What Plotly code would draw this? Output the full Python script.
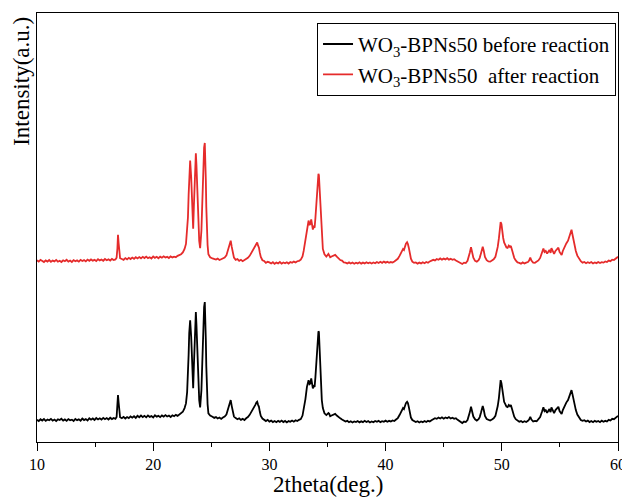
import plotly.graph_objects as go

# ---- data (2theta in degrees, intensity in a.u.) ----
before_pts = [
    (10.0,222),(10.15,210),(10.3,228),(10.45,215),(10.6,230),(10.75,212),(10.9,226),(11.05,218),(11.2,232),(11.35,214),
    (11.5,225),(11.65,210),(11.8,228),(11.95,220),(12.1,233),(12.25,215),(12.4,226),(12.55,212),(12.7,230),(12.85,218),
    (13.0,224),(13.15,210),(13.3,231),(13.45,219),(13.6,227),(13.75,214),(13.9,235),(14.05,220),(14.2,229),(14.35,216),
    (14.5,238),(14.65,224),(14.8,236),(14.95,221),(15.1,240),(15.25,226),(15.4,238),(15.55,225),(15.7,242),(15.85,228),
    (16.0,240),(16.15,226),(16.3,243),(16.45,230),(16.6,241),(16.75,232),(16.85,250),(16.92,340),(16.97,470),(17.02,400),
    (17.08,290),(17.15,248),(17.3,238),(17.45,252),(17.6,236),(17.75,250),(17.9,240),(18.05,256),(18.2,244),(18.35,258),
    (18.5,242),(18.65,262),(18.8,248),(18.95,265),(19.1,250),(19.25,262),(19.4,247),(19.55,266),(19.7,252),(19.85,260),
    (20.0,246),(20.15,268),(20.3,254),(20.45,262),(20.6,249),(20.75,266),(20.9,255),(21.05,270),(21.2,256),(21.35,264),
    (21.5,250),(21.65,268),(21.8,258),(21.95,272),(22.1,262),(22.25,278),(22.4,286),(22.55,303),(22.7,340),(22.82,387),
    (22.92,500),(22.99,653),(23.05,880),(23.1,1090),(23.18,1220),(23.27,1053),(23.36,690),(23.44,540),(23.5,760),(23.55,920),
    (23.61,1220),(23.67,1303),(23.72,1180),(23.76,1020),(23.84,653),(23.9,500),(23.96,420),(24.04,347),(24.1,420),(24.15,520),
    (24.22,780),(24.27,1020),(24.33,1250),(24.38,1353),(24.44,1403),(24.49,1250),(24.53,1020),(24.57,760),(24.61,520),(24.68,380),
    (24.75,287),(24.9,265),(25.1,253),(25.25,242),(25.4,250),(25.55,236),(25.7,245),(25.85,232),(26.0,246),(26.15,255),
    (26.3,275),(26.42,320),(26.55,380),(26.67,420),(26.76,360),(26.85,300),(26.95,255),(27.1,240),(27.25,228),(27.4,238),
    (27.55,222),(27.7,232),(27.85,220),(28.0,238),(28.15,250),(28.3,272),(28.45,300),(28.6,330),(28.7,360),(28.8,375),
    (28.88,395),(28.95,403),(29.02,375),(29.1,353),(29.18,300),(29.26,262),(29.4,235),(29.55,220),(29.7,210),(29.85,222),
    (30.0,205),(30.15,214),(30.3,200),(30.45,210),(30.6,198),(30.75,212),(30.9,202),(31.05,215),(31.2,200),(31.35,211),
    (31.5,197),(31.65,210),(31.8,203),(31.95,215),(32.1,204),(32.25,218),(32.4,210),(32.55,222),(32.7,230),(32.85,265),
    (32.95,320),(33.1,430),(33.23,553),(33.3,600),(33.37,620),(33.45,580),(33.52,587),(33.6,637),(33.67,590),(33.74,537),
    (33.82,560),(33.89,553),(33.96,650),(34.06,853),(34.12,1000),(34.17,1087),(34.22,1110),(34.26,1103),(34.32,950),(34.37,787),
    (34.44,580),(34.51,420),(34.6,340),(34.74,287),(34.9,270),(35.08,290),(35.15,282),(35.23,258),(35.35,265),(35.5,272),
    (35.66,282),(35.8,265),(35.95,248),(36.1,237),(36.25,225),(36.4,214),(36.55,205),(36.7,212),(36.85,198),(37.0,208),
    (37.15,196),(37.3,206),(37.45,200),(37.6,210),(37.75,197),(37.9,207),(38.05,199),(38.2,212),(38.35,201),(38.5,209),
    (38.65,196),(38.8,206),(38.95,198),(39.1,210),(39.25,202),(39.4,212),(39.55,199),(39.7,209),(39.85,202),(40.0,214),
    (40.15,203),(40.3,212),(40.45,205),(40.6,216),(40.75,210),(40.9,225),(41.05,240),(41.2,270),(41.35,310),(41.5,340),
    (41.58,330),(41.65,360),(41.75,390),(41.85,403),(41.92,390),(42.0,350),(42.08,287),(42.18,245),(42.3,220),(42.45,210),
    (42.6,200),(42.75,208),(42.9,196),(43.05,206),(43.2,199),(43.35,210),(43.5,200),(43.65,212),(43.8,205),(43.95,218),
    (44.1,226),(44.25,238),(44.4,232),(44.55,246),(44.7,236),(44.85,248),(45.0,234),(45.15,246),(45.3,238),(45.45,250),
    (45.6,236),(45.75,244),(45.9,232),(46.05,238),(46.2,222),(46.35,212),(46.5,200),(46.6,190),(46.75,205),(46.9,200),
    (47.05,220),(47.15,250),(47.25,300),(47.35,353),(47.45,300),(47.55,255),(47.7,228),(47.85,215),(48.0,228),(48.1,250),
    (48.2,290),(48.3,340),(48.36,360),(48.45,320),(48.55,262),(48.7,230),(48.85,222),(49.0,215),(49.15,225),(49.3,238),
    (49.45,262),(49.55,300),(49.65,360),(49.75,440),(49.83,540),(49.9,620),(49.97,590),(50.05,500),(50.12,450),(50.2,403),
    (50.3,380),(50.4,355),(50.5,350),(50.6,372),(50.7,360),(50.78,370),(50.88,330),(50.97,285),(51.07,253),(51.2,228),
    (51.35,212),(51.5,203),(51.65,210),(51.8,198),(51.95,208),(52.1,200),(52.25,212),(52.35,225),(52.45,253),(52.55,225),
    (52.7,205),(52.85,212),(53.0,208),(53.15,225),(53.3,250),(53.45,300),(53.58,347),(53.68,310),(53.78,320),(53.9,293),
    (54.0,315),(54.1,330),(54.2,300),(54.27,347),(54.38,320),(54.5,290),(54.62,320),(54.75,335),(54.87,353),(54.97,310),
    (55.07,290),(55.15,280),(55.25,320),(55.35,350),(55.45,375),(55.55,395),(55.7,420),(55.8,455),(55.9,490),(56.0,520),
    (56.08,480),(56.18,420),(56.28,360),(56.37,320),(56.5,275),(56.65,240),(56.8,220),(56.95,212),(57.1,218),(57.25,205),
    (57.4,214),(57.55,200),(57.7,210),(57.85,198),(58.0,212),(58.15,202),(58.3,210),(58.45,199),(58.6,214),(58.75,203),
    (58.9,212),(59.05,205),(59.2,222),(59.35,215),(59.5,232),(59.65,228),(59.8,246),(59.9,253),(60.0,262),
]

after_pts = [
    (10.0,232),(10.15,218),(10.3,236),(10.45,222),(10.6,214),(10.75,230),(10.9,219),(11.05,234),(11.2,216),(11.35,228),
    (11.5,220),(11.65,235),(11.8,217),(11.95,226),(12.1,214),(12.25,231),(12.4,222),(12.55,236),(12.7,219),(12.85,229),
    (13.0,215),(13.15,233),(13.3,221),(13.45,230),(13.6,218),(13.75,236),(13.9,224),(14.05,233),(14.2,220),(14.35,238),
    (14.5,226),(14.65,240),(14.8,228),(14.95,236),(15.1,224),(15.25,242),(15.4,230),(15.55,239),(15.7,227),(15.85,244),
    (16.0,232),(16.15,241),(16.3,229),(16.45,245),(16.6,234),(16.75,240),(16.85,258),(16.92,350),(16.97,487),(17.02,410),
    (17.08,295),(17.15,252),(17.3,244),(17.45,236),(17.6,253),(17.75,241),(17.9,256),(18.05,244),(18.2,259),(18.35,246),
    (18.5,262),(18.65,250),(18.8,264),(18.95,251),(19.1,266),(19.25,254),(19.4,268),(19.55,253),(19.7,262),(19.85,250),
    (20.0,270),(20.15,256),(20.3,266),(20.45,252),(20.6,268),(20.75,257),(20.9,271),(21.05,259),(21.2,266),(21.35,254),
    (21.5,270),(21.65,260),(21.8,268),(21.95,262),(22.1,276),(22.25,282),(22.4,292),(22.55,310),(22.7,345),(22.82,395),
    (22.92,510),(22.99,660),(23.05,890),(23.1,1100),(23.18,1230),(23.27,1060),(23.36,700),(23.44,548),(23.5,770),(23.55,930),
    (23.61,1225),(23.67,1303),(23.72,1190),(23.76,1030),(23.84,660),(23.9,505),(23.96,425),(24.04,352),(24.1,425),(24.15,530),
    (24.22,790),(24.27,1030),(24.33,1260),(24.38,1360),(24.44,1407),(24.49,1255),(24.53,1030),(24.57,765),(24.61,525),(24.68,385),
    (24.75,292),(24.9,262),(25.1,250),(25.25,246),(25.4,238),(25.55,248),(25.7,234),(25.85,242),(26.0,250),(26.15,258),
    (26.3,280),(26.42,325),(26.55,385),(26.67,428),(26.76,365),(26.85,305),(26.95,258),(27.1,236),(27.25,244),(27.4,226),
    (27.55,236),(27.7,222),(27.85,234),(28.0,242),(28.15,256),(28.3,276),(28.45,305),(28.6,335),(28.7,362),(28.8,382),
    (28.88,400),(28.95,410),(29.02,380),(29.1,358),(29.18,305),(29.26,265),(29.4,232),(29.55,224),(29.7,206),(29.85,216),
    (30.0,210),(30.15,200),(30.3,212),(30.45,196),(30.6,208),(30.75,200),(30.9,214),(31.05,198),(31.2,210),(31.35,202),
    (31.5,212),(31.65,199),(31.8,214),(31.95,206),(32.1,218),(32.25,210),(32.4,222),(32.55,226),(32.7,238),(32.85,270),
    (32.95,325),(33.1,440),(33.23,560),(33.3,610),(33.37,630),(33.45,585),(33.52,595),(33.6,640),(33.67,596),(33.74,540),
    (33.82,566),(33.89,558),(33.96,655),(34.06,860),(34.12,1005),(34.17,1090),(34.22,1097),(34.26,1085),(34.32,945),(34.37,790),
    (34.44,585),(34.51,425),(34.6,345),(34.74,292),(34.9,268),(35.08,295),(35.15,280),(35.23,262),(35.35,270),(35.5,276),
    (35.66,286),(35.8,268),(35.95,250),(36.1,234),(36.25,228),(36.4,210),(36.55,208),(36.7,200),(36.85,210),(37.0,199),
    (37.15,209),(37.3,197),(37.45,207),(37.6,200),(37.75,211),(37.9,198),(38.05,208),(38.2,200),(38.35,212),(38.5,202),
    (38.65,210),(38.8,199),(38.95,209),(39.1,201),(39.25,214),(39.4,204),(39.55,216),(39.7,206),(39.85,218),(40.0,208),
    (40.15,216),(40.3,206),(40.45,214),(40.6,209),(40.75,220),(40.9,230),(41.05,246),(41.2,275),(41.35,316),(41.5,345),
    (41.58,335),(41.65,365),(41.75,398),(41.85,413),(41.92,395),(42.0,355),(42.08,292),(42.18,248),(42.3,218),(42.45,206),
    (42.6,210),(42.75,198),(42.9,208),(43.05,200),(43.2,212),(43.35,202),(43.5,214),(43.65,206),(43.8,220),(43.95,226),
    (44.1,236),(44.25,230),(44.4,244),(44.55,236),(44.7,250),(44.85,238),(45.0,248),(45.15,240),(45.3,252),(45.45,238),
    (45.6,246),(45.75,236),(45.9,242),(46.05,230),(46.2,218),(46.35,206),(46.5,198),(46.6,195),(46.75,208),(46.9,204),
    (47.05,226),(47.15,258),(47.25,310),(47.35,363),(47.45,305),(47.55,258),(47.7,226),(47.85,218),(48.0,232),(48.1,256),
    (48.2,298),(48.3,350),(48.36,367),(48.45,325),(48.55,265),(48.7,232),(48.85,220),(49.0,218),(49.15,228),(49.3,242),
    (49.45,266),(49.55,305),(49.65,365),(49.75,450),(49.83,550),(49.9,613),(49.97,595),(50.05,505),(50.12,455),(50.2,410),
    (50.3,385),(50.4,360),(50.5,355),(50.6,378),(50.7,365),(50.78,375),(50.88,335),(50.97,288),(51.07,256),(51.2,230),
    (51.35,210),(51.5,206),(51.65,198),(51.8,210),(51.95,200),(52.1,208),(52.25,214),(52.35,228),(52.45,258),(52.55,228),
    (52.7,208),(52.85,206),(53.0,214),(53.15,230),(53.3,255),(53.45,305),(53.58,350),(53.68,315),(53.78,325),(53.9,298),
    (54.0,318),(54.1,335),(54.2,305),(54.27,352),(54.38,325),(54.5,295),(54.62,325),(54.75,340),(54.87,358),(54.97,315),
    (55.07,295),(55.15,285),(55.25,325),(55.35,355),(55.45,380),(55.55,400),(55.7,428),(55.8,462),(55.9,500),(56.0,537),
    (56.08,490),(56.18,425),(56.28,365),(56.37,325),(56.5,278),(56.65,245),(56.8,222),(56.95,208),(57.1,214),(57.25,202),
    (57.4,212),(57.55,204),(57.7,214),(57.85,200),(58.0,210),(58.15,203),(58.3,214),(58.45,204),(58.6,212),(58.75,208),
    (58.9,220),(59.05,214),(59.2,228),(59.35,222),(59.5,238),(59.65,234),(59.8,250),(59.9,258),(60.0,266),
]

two_theta_before = [p[0] for p in before_pts]
intensity_before = [p[1] for p in before_pts]
two_theta_after = [p[0] for p in after_pts]
intensity_after = [p[1] for p in after_pts]

STACK_OFFSET_AFTER = 1590          # vertical offset used to stack the "after" pattern
x_ticks = [10, 20, 30, 40, 50, 60]
series_names = ["WO<sub>3</sub>-BPNs50 before reaction", "WO<sub>3</sub>-BPNs50  after reaction"]

FONT = "Liberation Serif"

fig = go.Figure()
fig.add_trace(go.Scatter(
    x=two_theta_before, y=intensity_before, mode="lines", name=series_names[0],
    line=dict(color="#000000", width=1.8),
))
fig.add_trace(go.Scatter(
    x=two_theta_after, y=[v + STACK_OFFSET_AFTER for v in intensity_after], mode="lines",
    name=series_names[1], line=dict(color="#e52b2b", width=1.8),
))

# the page body has an 8px default margin, so the figure is drawn at 622x490
fig.update_layout(
    width=622, height=490,
    margin=dict(l=29, r=9, t=4, b=56),
    plot_bgcolor="white", paper_bgcolor="white",
    font=dict(family=FONT, color="black"),
    showlegend=True,
    legend=dict(
        x=0.9966, xanchor="right", y=0.977, yanchor="top",
        bordercolor="black", borderwidth=1, bgcolor="white",
        font=dict(family=FONT, size=21, color="black"),
        tracegroupgap=0, itemwidth=30,
    ),
    xaxis=dict(
        range=[10, 60], tickvals=x_ticks, ticktext=[str(t) for t in x_ticks],
        ticks="outside", ticklen=8, tickwidth=1.3, tickcolor="black",
        minor=dict(dtick=5, tick0=10, ticks="outside", ticklen=4, tickwidth=1.3, tickcolor="black"),
        showline=True, linecolor="black", linewidth=1.3, mirror=True,
        showgrid=False, zeroline=False,
        tickfont=dict(family=FONT, size=16, color="black"),
    ),
    yaxis=dict(
        range=[0, 4300], showticklabels=False, ticks="",
        showline=True, linecolor="black", linewidth=1.3, mirror=True,
        showgrid=False, zeroline=False,
    ),
    annotations=[
        dict(text="2theta(deg.)", xref="paper", yref="paper", x=0.5, y=0,
             xanchor="center", yanchor="middle", yshift=-42, showarrow=False,
             font=dict(family=FONT, size=23, color="black")),
        dict(text="Intensity(a.u.)", xref="paper", yref="paper", x=0, y=(442 - 81) / 430,
             xanchor="center", yanchor="middle", xshift=-15, textangle=-90, showarrow=False,
             font=dict(family=FONT, size=23, color="black")),
    ],
)

fig.write_html("out.html")
